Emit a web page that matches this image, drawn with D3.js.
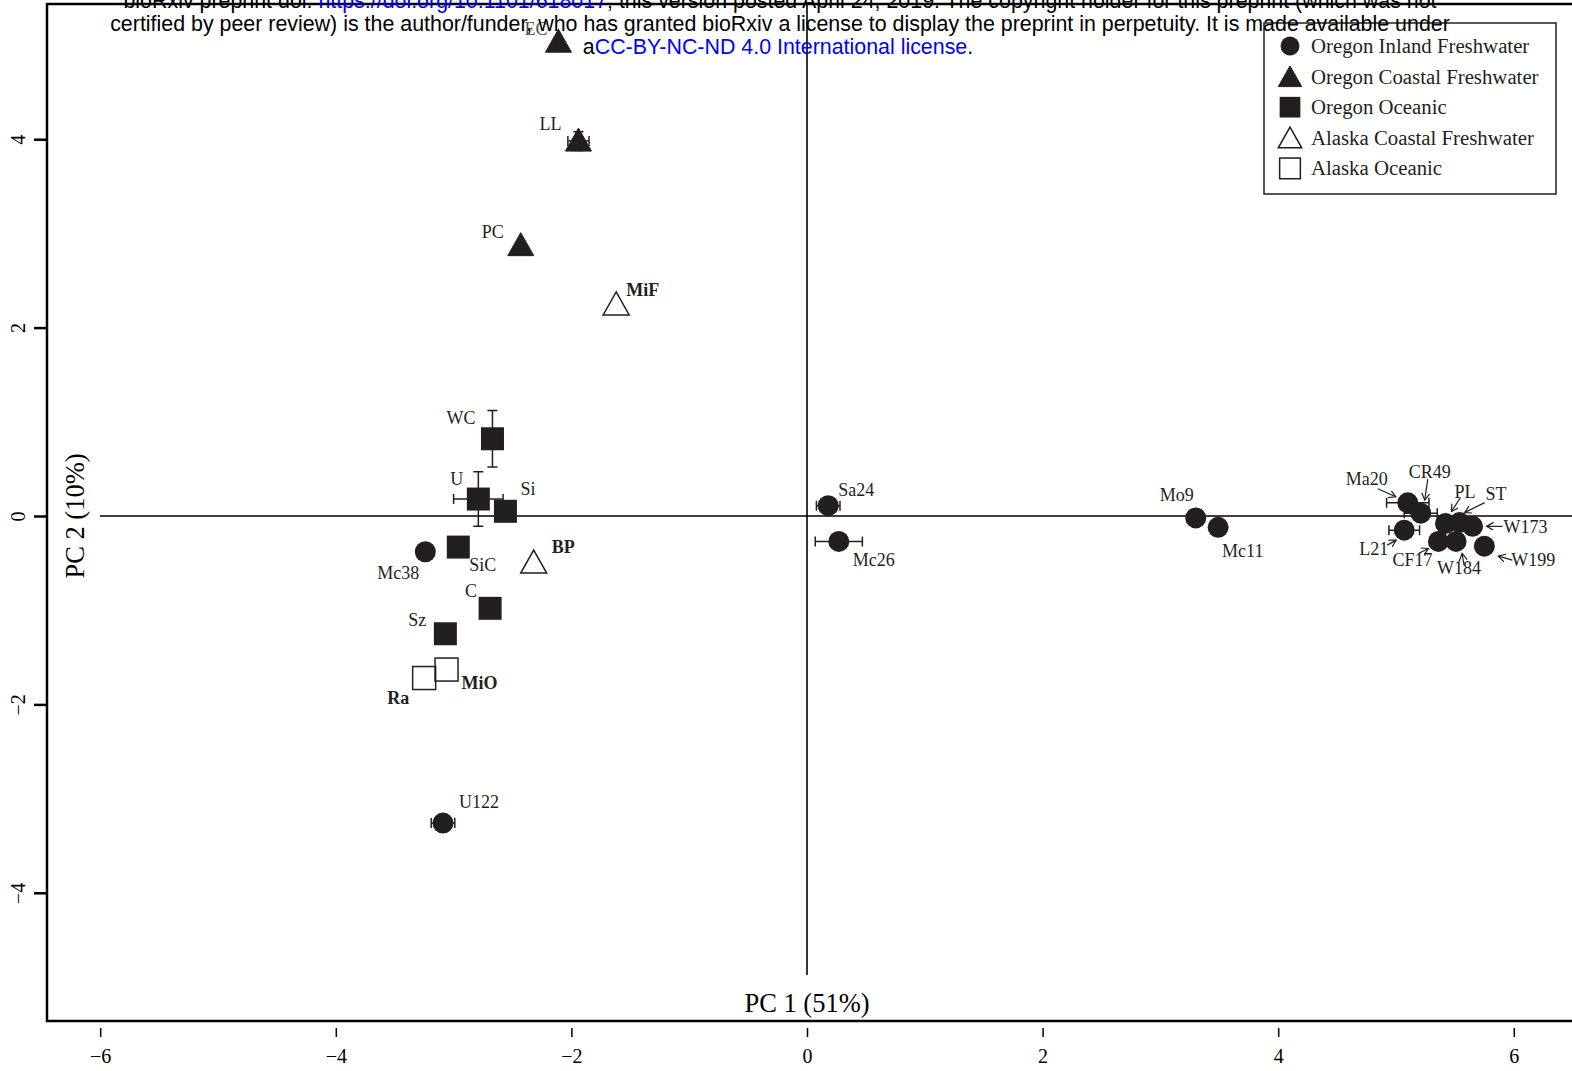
<!DOCTYPE html>
<html>
<head>
<meta charset="utf-8">
<script src="https://cdn.jsdelivr.net/npm/d3@7"></script>
<style>
  body { margin: 0; background: white; }
  svg { display: block; }
</style>
</head>
<body>
<div id="chart"></div>
<script>
// groups, in legend order
var groups = ['Oregon Inland Freshwater', 'Oregon Coastal Freshwater', 'Oregon Oceanic', 'Alaska Coastal Freshwater', 'Alaska Oceanic'];

// sites and their PCA scores (PC1, PC2) with standard errors
var sites    = ['EC', 'LL', 'PC', 'MiF', 'WC', 'U', 'Si', 'SiC', 'C', 'Sz', 'Mc38', 'BP', 'Ra', 'MiO', 'U122', 'Sa24', 'Mc26', 'Mo9', 'Mc11', 'Ma20', 'CR49', 'L21', 'PL', 'ST', 'W173', 'CF17', 'W184', 'W199'];
var siteGroup = [1, 1, 1, 3, 2, 2, 2, 2, 2, 2, 0, 3, 4, 4, 0, 0, 0, 0, 0, 0, 0, 0, 0, 0, 0, 0, 0, 0];
var pc1      = [-2.11, -1.94, -2.43, -1.62, -2.67, -2.79, -2.56, -2.96, -2.69, -3.07, -3.24, -2.32, -3.25, -3.06, -3.09, 0.18, 0.27, 3.30, 3.49, 5.10, 5.21, 5.07, 5.42, 5.54, 5.65, 5.36, 5.51, 5.75];
var pc2      = [5.03, 3.98, 2.87, 2.24, 0.82, 0.18, 0.05, -0.33, -0.98, -1.25, -0.38, -0.50, -1.72, -1.63, -3.26, 0.11, -0.27, -0.02, -0.12, 0.14, 0.03, -0.15, -0.08, -0.07, -0.11, -0.27, -0.27, -0.32];
var pc1Se    = [0, 0.09, 0, 0, 0, 0.21, 0, 0, 0, 0, 0, 0, 0, 0, 0.1, 0.1, 0.2, 0, 0, 0.18, 0.14, 0.13, 0, 0, 0, 0, 0, 0];
var pc2Se    = [0, 0.1, 0, 0, 0.30, 0.29, 0, 0, 0, 0, 0, 0, 0, 0, 0, 0, 0, 0, 0, 0, 0, 0, 0, 0, 0, 0, 0, 0];

var xTicks = [-6, -4, -2, 0, 2, 4, 6];
var yTicks = [-4, -2, 0, 2, 4];
var xTitle = 'PC 1 (51%)';
var yTitle = 'PC 2 (10%)';

// label placement (pixel offsets from the point), arrows for the crowded cluster
var labelPos = {
  EC: [-34, -7], LL: [-39, -11], PC: [-39, -8], MiF: [10, -9], WC: [-46, -15], U: [-28, -14],
  Si: [15, -16], SiC: [11, 24], C: [-25, -11], Sz: [-37, -8], Mc38: [-48, 27], BP: [18, -10],
  Ra: [-37, 26], MiO: [15, 19], U122: [16, -15], Sa24: [10, -10], Mc26: [14, 25], Mo9: [-36, -17],
  Mc11: [4, 30], Ma20: [-62, -18], CR49: [-12, -35], L21: [-45, 25], PL: [9, -26], ST: [26, -23],
  W173: [31, 7], CF17: [-46, 25], W184: [-19, 33], W199: [27, 20]
};
var arrowPos = {
  Ma20: [-30, -14, -12, -6], CR49: [7, -34, 4, -13], PL: [15, -26, 6, -12], ST: [25, -20, 5, -10],
  W173: [30, 0, 14, 0], W199: [28, 14, 14, 10], L21: [-17, 15, -8, 10], CF17: [-20, 12, -10, 7],
  W184: [8, 24, 6, 12]
};

function drawPCA(parentDiv){
  var width = 1572;
  var height = 1071;
  var ink = '#231f20';
  var serif = '"Liberation Serif", "Times New Roman", serif';

  var x = d3.scaleLinear().domain([-6, 6]).range([100.2, 1513.8]);
  var y = d3.scaleLinear().domain([-4, 4]).range([892.8, 139.2]);

  var svg = d3.select(parentDiv)
    .append('svg')
    .attr('width', width)
    .attr('height', height)
    .style('background-color', 'white');

  var defs = svg.append('defs');
  defs.append('marker')
    .attr('id', 'arrowHead')
    .attr('markerUnits', 'userSpaceOnUse')
    .attr('markerWidth', 10).attr('markerHeight', 10)
    .attr('refX', 7).attr('refY', 4)
    .attr('orient', 'auto')
    .append('path')
    .attr('d', 'M0,0 L7,4 L0,8')
    .attr('fill', 'none')
    .attr('stroke', ink)
    .attr('stroke-width', 1.2);

  // plot frame (right side runs off the page)
  svg.append('path')
    .attr('d', 'M1580,4 L47,4 L47,1021 L1580,1021')
    .attr('fill', 'none')
    .attr('stroke', 'black')
    .attr('stroke-width', 2.5);

  // zero lines
  svg.append('line')
    .attr('x1', 100).attr('x2', 1580)
    .attr('y1', y(0)).attr('y2', y(0))
    .attr('stroke', 'black').attr('stroke-width', 1.6);
  svg.append('line')
    .attr('x1', x(0)).attr('x2', x(0))
    .attr('y1', 4).attr('y2', 975)
    .attr('stroke', 'black').attr('stroke-width', 1.6);

  // axes
  var xAxis = svg.append('g')
    .attr('transform', 'translate(0,1028)')
    .call(d3.axisBottom(x).tickValues(xTicks).tickSize(9).tickPadding(12).tickFormat(d3.format('d')));
  xAxis.select('.domain').remove();
  xAxis.selectAll('line').attr('stroke', 'black').attr('stroke-width', 1.5);
  xAxis.selectAll('text').style('font-family', serif).style('font-size', '20px').attr('fill', 'black');

  var yAxis = svg.append('g')
    .attr('transform', 'translate(47,0)')
    .call(d3.axisLeft(y).tickValues(yTicks).tickSize(13).tickFormat(d3.format('d')));
  yAxis.select('.domain').remove();
  yAxis.selectAll('line').attr('stroke', 'black').attr('stroke-width', 2.5);
  yAxis.selectAll('text')
    .attr('x', null).attr('dy', null)
    .attr('text-anchor', 'middle')
    .attr('transform', 'translate(-22,0) rotate(-90)')
    .style('font-family', serif).style('font-size', '20px').attr('fill', 'black');

  svg.append('text')
    .text(xTitle)
    .attr('x', x(0)).attr('y', 1012)
    .attr('text-anchor', 'middle')
    .style('font-family', serif).style('font-size', '26.5px');
  svg.append('text')
    .text(yTitle)
    .attr('transform', 'translate(84,' + y(0) + ') rotate(-90)')
    .attr('text-anchor', 'middle')
    .style('font-family', serif).style('font-size', '26.5px');

  var pts = sites.map(function(s, i){
    return { name: s, g: siteGroup[i], x: pc1[i], y: pc2[i], ex: pc1Se[i], ey: pc2Se[i] };
  });

  // error bars
  var cap = 5;
  var err = svg.append('g').attr('stroke', ink).attr('stroke-width', 1.5);
  pts.filter(function(d){ return d.ex > 0; }).forEach(function(d){
    var x0 = x(d.x - d.ex), x1 = x(d.x + d.ex), cy = y(d.y);
    err.append('path').attr('d', 'M' + x0 + ',' + cy + 'H' + x1 +
      'M' + x0 + ',' + (cy - cap) + 'V' + (cy + cap) + 'M' + x1 + ',' + (cy - cap) + 'V' + (cy + cap));
  });
  pts.filter(function(d){ return d.ey > 0; }).forEach(function(d){
    var y0 = y(d.y - d.ey), y1 = y(d.y + d.ey), cx = x(d.x);
    err.append('path').attr('d', 'M' + cx + ',' + y0 + 'V' + y1 +
      'M' + (cx - cap) + ',' + y0 + 'H' + (cx + cap) + 'M' + (cx - cap) + ',' + y1 + 'H' + (cx + cap));
  });

  // symbols
  function drawSymbol(sel, g, cx, cy, s){
    if (g === 0) {
      sel.append('circle').attr('cx', cx).attr('cy', cy).attr('r', 10.5 * s).attr('fill', ink);
    } else if (g === 1 || g === 3) {
      var tri = 'M' + cx + ',' + (cy - 13 * s) + 'L' + (cx + 13 * s) + ',' + (cy + 10 * s) + 'L' + (cx - 13 * s) + ',' + (cy + 10 * s) + 'Z';
      sel.append('path').attr('d', tri)
        .attr('fill', g === 1 ? ink : 'none')
        .attr('stroke', ink).attr('stroke-width', g === 1 ? 1 : 1.5);
    } else {
      var h = 11.5 * s;
      sel.append('rect').attr('x', cx - h).attr('y', cy - h).attr('width', 2 * h).attr('height', 2 * h)
        .attr('fill', g === 2 ? ink : 'none')
        .attr('stroke', ink).attr('stroke-width', g === 2 ? 0 : 1.5);
    }
  }

  var sym = svg.append('g');
  pts.forEach(function(d){ drawSymbol(sym, d.g, x(d.x), y(d.y), 1); });

  // arrows
  var arr = svg.append('g');
  pts.filter(function(d){ return arrowPos[d.name]; }).forEach(function(d){
    var a = arrowPos[d.name];
    arr.append('line')
      .attr('x1', x(d.x) + a[0]).attr('y1', y(d.y) + a[1])
      .attr('x2', x(d.x) + a[2]).attr('y2', y(d.y) + a[3])
      .attr('stroke', ink).attr('stroke-width', 1.2)
      .attr('marker-end', 'url(#arrowHead)');
  });

  // labels
  svg.append('g').selectAll('text')
    .data(pts)
    .enter()
    .append('text')
    .text(function(d){ return d.name; })
    .attr('x', function(d){ return x(d.x) + labelPos[d.name][0]; })
    .attr('y', function(d){ return y(d.y) + labelPos[d.name][1]; })
    .attr('fill', function(d){ return d.name === 'EC' ? '#555' : ink; })
    .style('font-family', serif)
    .style('font-size', '18px')
    .style('font-weight', function(d){ return d.g >= 3 ? 'bold' : 'normal'; });

  // legend
  var legend = svg.append('g');
  legend.append('rect')
    .attr('x', 1264).attr('y', 23).attr('width', 292).attr('height', 171)
    .attr('fill', 'white').attr('stroke', ink).attr('stroke-width', 1.5);
  groups.forEach(function(gName, i){
    var cy = 46 + i * 30.6;
    drawSymbol(legend, i, 1290, cy + (i === 1 || i === 3 ? 1 : 0), 0.9);
    legend.append('text')
      .text(gName)
      .attr('x', 1311).attr('y', cy + 7)
      .attr('fill', ink)
      .style('font-family', serif)
      .style('font-size', '20.8px');
  });

  // preprint watermark header
  var hdr = svg.append('g')
    .style('font-family', '"Liberation Sans", Arial, sans-serif')
    .style('font-size', '21.4px')
    .attr('text-anchor', 'middle');
  var l1 = hdr.append('text').attr('x', 780).attr('y', 8);
  l1.append('tspan').text('bioRxiv preprint doi: ');
  l1.append('tspan').attr('fill', '#0000ff').text('https://doi.org/10.1101/618017');
  l1.append('tspan').text('; this version posted April 24, 2019. The copyright holder for this preprint (which was not');
  hdr.append('text').attr('x', 780).attr('y', 31)
    .text('certified by peer review) is the author/funder, who has granted bioRxiv a license to display the preprint in perpetuity. It is made available under');
  var l3 = hdr.append('text').attr('x', 778).attr('y', 54);
  l3.append('tspan').text('a');
  l3.append('tspan').attr('fill', '#0000ff').text('CC-BY-NC-ND 4.0 International license');
  l3.append('tspan').text('.');
}

drawPCA('#chart');
</script>
</body>
</html>
